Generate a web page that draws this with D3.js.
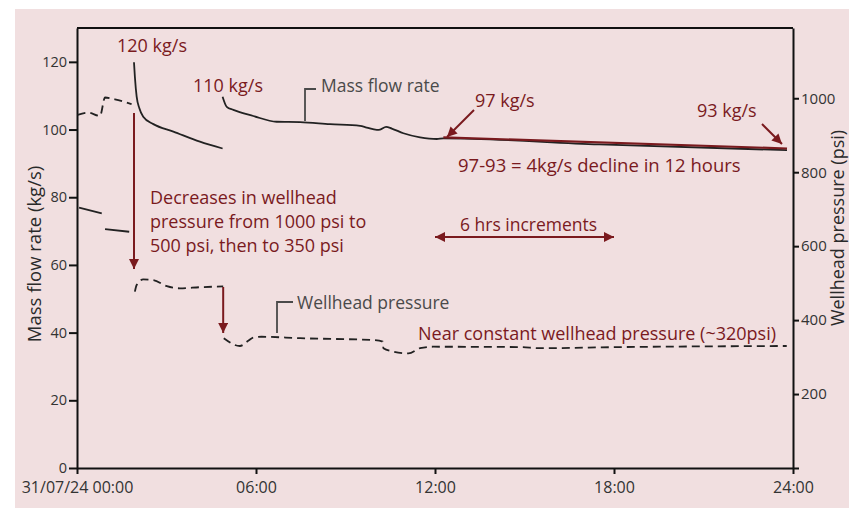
<!DOCTYPE html>
<html><head><meta charset="utf-8">
<script src="https://cdn.jsdelivr.net/npm/d3@7"></script>
<style>
html,body{margin:0;padding:0;background:#fff;}
svg{display:block;font-family:"Open Sans","Noto Sans",sans-serif;}
</style></head>
<body><svg id="c" width="849" height="508"></svg>
<script>
// ---- data ----
const timeTicks = [0, 6, 12, 18, 24];
const timeTickLabels = ["31/07/24 00:00", "06:00", "12:00", "18:00", "24:00"];
const flowTicks = [0, 20, 40, 60, 80, 100, 120];
const pressTicks = [0, 200, 400, 600, 800, 1000];
const pressTickLabels = ["", "200", "400", "600", "800", "1000"];

// mass flow rate (kg/s), hours since 00:00
const flowEarlyT = [0.07, 0.83, 0.88, 0.94, 1.75];
const flowEarlyV = [76.9, 75.2, null, 70.6, 69.8];
const flowSeg1T = [1.91, 1.94, 2.00, 2.09, 2.22, 2.56, 3.23, 4.12, 4.88];
const flowSeg1V = [119.9, 115.6, 109.7, 106.3, 103.8, 101.6, 99.4, 96.4, 94.4];
const flowSeg2T = [4.88, 5.02, 5.24, 5.91, 6.69, 7.48, 8.48, 9.49, 9.71, 10.05, 10.16, 10.36, 10.55, 10.94, 11.5, 12.06, 12.28, 17.5, 23.8];
const flowSeg2V = [109.7, 106.7, 105.8, 104.0, 102.3, 102.2, 101.6, 101.1, 100.6, 99.9, 100.0, 100.8, 100.3, 98.9, 97.7, 97.2, 97.4, 95.6, 93.9];
const trendT = [12.28, 23.8];
const trendV = [97.7, 94.4];

// wellhead pressure (psi)
const pressT = [0.02, 0.38, 0.77, 0.94, 1.27, 1.83, 1.88,
                1.94, 2.00, 2.22, 2.56, 3.01, 3.45, 4.12, 4.90, 4.91,
                4.92, 5.46, 5.74, 5.91, 6.19, 7.48, 9.93, 10.25, 10.27, 10.6, 11.11, 11.5, 11.94, 14.85, 15.52, 18.2, 23.79];
const pressV = [955, 961, 952, 1002, 997, 984, null,
                477, 495, 510, 508, 492, 486, 489, 491, null,
                351, 330, 344, 353, 355, 351, 346, 342, 324, 315, 310, 324, 328, 327, 324, 327, 330];

// ---- chart ----
const svg = d3.select("#c");
const RED = "#7a1a1e", GREY = "#4a4a4a", INK = "#222";
svg.append("rect").attr("x", 15).attr("y", 9).attr("width", 849 - 15).attr("height", 508 - 9).attr("fill", "#f1dfe0");

const x = d3.scaleLinear().domain([0, 24]).range([77, 793]);
const yL = d3.scaleLinear().domain([0, 130]).range([468, 28]);
const yR = d3.scaleLinear().domain([0, 1190]).range([468, 28]);

const defs = svg.append("defs");
defs.append("marker").attr("id", "ah").attr("viewBox", "0 0 10 10").attr("refX", 10).attr("refY", 5)
  .attr("markerWidth", 10).attr("markerHeight", 10).attr("markerUnits", "userSpaceOnUse").attr("orient", "auto-start-reverse")
  .append("path").attr("d", "M0,0 L10,5 L0,10 Z").attr("fill", RED);

// frame top line
svg.append("line").attr("x1", x(0)).attr("x2", x(24)).attr("y1", yL(130)).attr("y2", yL(130)).attr("stroke", "#111").attr("stroke-width", 2);

function styleAxis(size) {
  return g => {
    g.select(".domain").attr("stroke", "#111").attr("stroke-width", 2);
    g.selectAll(".tick line").attr("stroke", "#111").attr("stroke-width", 2);
    g.selectAll(".tick text").attr("fill", "#333").style("font-size", size + "px").style("font-family", "'Open Sans', sans-serif");
  };
}
svg.append("g").attr("transform", "translate(0,468)")
  .call(d3.axisBottom(x).tickValues(timeTicks).tickFormat((d, i) => timeTickLabels[i]).tickSize(6).tickPadding(8).tickSizeOuter(0))
  .call(styleAxis(16));
svg.append("g").attr("transform", "translate(77,0)")
  .call(d3.axisLeft(yL).tickValues(flowTicks).tickSize(8).tickPadding(2).tickSizeOuter(0))
  .call(styleAxis(14.5));
svg.append("g").attr("transform", "translate(793,0)")
  .call(d3.axisRight(yR).tickValues(pressTicks).tickFormat((d, i) => pressTickLabels[i]).tickSize(6).tickPadding(2).tickSizeOuter(0))
  .call(styleAxis(15));

// axis titles
svg.append("text").attr("transform", "translate(41,254) rotate(-90)").attr("text-anchor", "middle")
  .attr("fill", "#2a2a2a").style("font-size", "18.5px").text("Mass flow rate (kg/s)");
svg.append("text").attr("transform", "translate(844,228) rotate(-90)").attr("text-anchor", "middle")
  .attr("fill", "#2a2a2a").style("font-size", "18px").text("Wellhead pressure (psi)");

// lines
const lineL = d3.line().defined(d => d[1] != null).x(d => x(d[0])).y(d => yL(d[1])).curve(d3.curveMonotoneX);
const lineR = d3.line().defined(d => d[1] != null).x(d => x(d[0])).y(d => yR(d[1])).curve(d3.curveMonotoneX);
const zip = (a, b) => a.map((t, i) => [t, b[i]]);

svg.append("path").datum(zip(flowEarlyT, flowEarlyV)).attr("d", d3.line().defined(d => d[1] != null).x(d => x(d[0])).y(d => yL(d[1])))
  .attr("fill", "none").attr("stroke", INK).attr("stroke-width", 1.8);
svg.append("path").datum(zip(flowSeg1T, flowSeg1V)).attr("d", lineL).attr("fill", "none").attr("stroke", INK).attr("stroke-width", 1.8);
svg.append("path").datum(zip(flowSeg2T, flowSeg2V)).attr("d", lineL).attr("fill", "none").attr("stroke", INK).attr("stroke-width", 1.8);
svg.append("path").datum(zip(trendT, trendV)).attr("d", d3.line().x(d => x(d[0])).y(d => yL(d[1])))
  .attr("fill", "none").attr("stroke", RED).attr("stroke-width", 2.2);
svg.append("path").datum(zip(pressT, pressV)).attr("d", lineR).attr("fill", "none").attr("stroke", INK)
  .attr("stroke-width", 1.8).attr("stroke-dasharray", "8,5");

// annotations
function txt(px, py, s, col, size) {
  return svg.append("text").attr("x", px).attr("y", py).attr("fill", col).style("font-size", (size || 18) + "px").text(s);
}
function arrow(x1, y1, x2, y2, both) {
  const l = svg.append("line").attr("x1", x1).attr("y1", y1).attr("x2", x2).attr("y2", y2)
    .attr("stroke", RED).attr("stroke-width", 2).attr("marker-end", "url(#ah)");
  if (both) l.attr("marker-start", "url(#ah)");
}
txt(117, 52, "120 kg/s", RED, 18);
txt(193, 92, "110 kg/s", RED, 18);
txt(321, 92, "Mass flow rate", GREY, 17.5);
svg.append("path").attr("d", "M305,121 V89 H316").attr("fill", "none").attr("stroke", GREY).attr("stroke-width", 1.8);
txt(475, 107, "97 kg/s", RED, 18);
arrow(474, 110, 447, 137);
txt(697, 117, "93 kg/s", RED, 18);
arrow(762, 124, 782, 144);
txt(458, 172, "97-93 = 4kg/s decline in 12 hours", RED, 18.5);
txt(460, 231, "6 hrs increments", RED, 17.5);
arrow(x(12), 237, x(18), 237, true);
txt(150, 204, "Decreases in wellhead", RED, 18);
txt(150, 228, "pressure from 1000 psi to", RED, 18);
txt(150, 252, "500 psi, then to 350 psi", RED, 18);
arrow(x(1.91), 113, x(1.91), 269);
arrow(x(4.9), 287, x(4.9), 333);
txt(297, 309, "Wellhead pressure", GREY, 17.5);
svg.append("path").attr("d", "M277,333 V302 H293").attr("fill", "none").attr("stroke", GREY).attr("stroke-width", 1.8);
txt(418, 340, "Near constant wellhead pressure (~320psi)", RED, 18);
</script></body></html>
